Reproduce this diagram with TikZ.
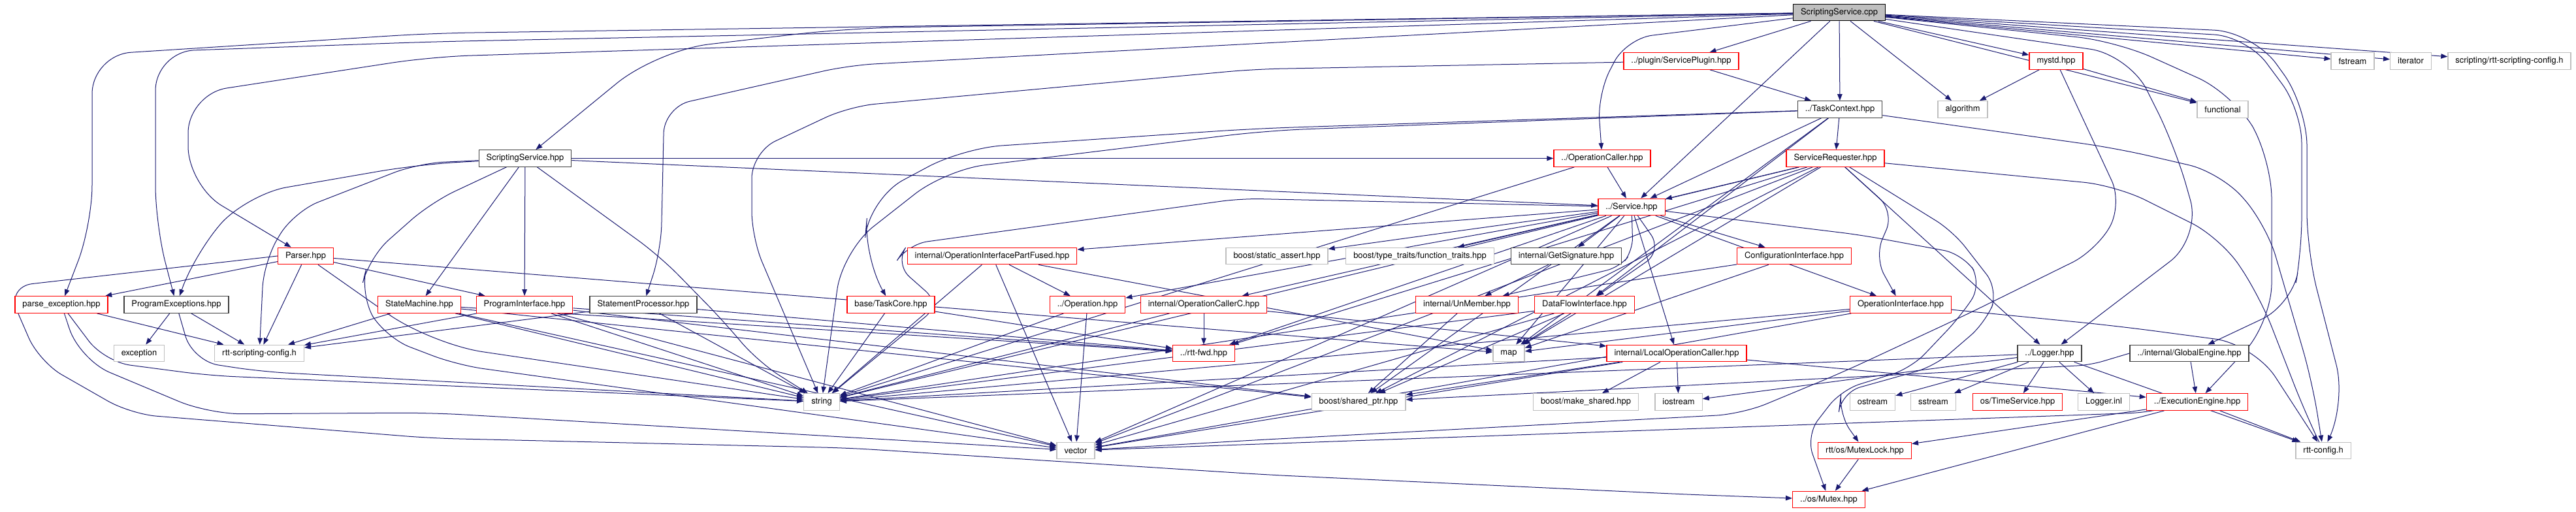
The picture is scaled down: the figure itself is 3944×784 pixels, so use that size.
\documentclass[tikz,border=0pt]{standalone}
\usepackage{fontspec}
\setmainfont{TeX Gyre Heros}
\usetikzlibrary{arrows.meta,backgrounds}
\definecolor{edge}{HTML}{191970}
\definecolor{dark}{HTML}{404040}
\definecolor{sysgray}{HTML}{BFBFBF}
\tikzset{
  % Kästen
  incbox/.style={rectangle, fill=white, line width=1.3pt, inner xsep=11.5pt, inner ysep=0pt,
    minimum height=25.5pt, font=\fontsize{12.9}{15}\selectfont},
  hdr/.style={incbox, draw=dark},
  trunc/.style={incbox, draw=red},
  sys/.style={incbox, draw=sysgray},
  root/.style={incbox, draw=black, fill=sysgray},
  % Kanten
  dep/.style={->, draw=edge, line width=1pt},
  bent/.style={dep, rounded corners=#1},
  bent/.default=40pt,
}

\begin{document}
\begin{tikzpicture}[x=1pt, y=1pt, >={Triangle[length=10pt,width=7.5pt]}]
  \useasboundingbox (0,0) rectangle (3944,784);
  % Rang 0-2
  \node[root]  (cpp)        at (2816,765)   {ScriptingService.cpp};
  \node[trunc] (plugin)     at (2574,690.5) {../plugin/ServicePlugin.hpp};
  \node[trunc] (mystd)      at (3148,690.5) {mystd.hpp};
  \node[sys]   (fstream)    at (3602,690.5) {fstream};
  \node[sys]   (iterator)   at (3691,690.5) {iterator};
  \node[sys]   (sconfig)    at (3842,690.5) {scripting/rtt-scripting-config.h};
  \node[hdr]   (taskctx)    at (2817,616.5) {../TaskContext.hpp};
  \node[sys]   (algorithm)  at (3005,616.5) {algorithm};
  \node[sys]   (functional) at (3403,616.5) {functional};
  % Rang 3-5
  \node[hdr]   (sshpp)      at (804,541.5)  {ScriptingService.hpp};
  \node[trunc] (opcaller)   at (2453,541.5) {../OperationCaller.hpp};
  \node[trunc] (srequester) at (2810,541.5) {ServiceRequester.hpp};
  \node[trunc] (service)    at (2498,467)   {../Service.hpp};
  \node[trunc] (parser)     at (468,392)    {Parser.hpp};
  \node[trunc] (opfused)    at (1519,392)   {internal/OperationInterfacePartFused.hpp};
  \node[sys]   (sassert)    at (1955,392)   {boost/static\_assert.hpp};
  \node[sys]   (ftraits)    at (2174,392)   {boost/type\_traits/function\_traits.hpp};
  \node[hdr]   (getsig)     at (2398,392)   {internal/GetSignature.hpp};
  \node[trunc] (confif)     at (2747,392)   {ConfigurationInterface.hpp};
  % Rang 6
  \node[trunc] (pexc)       at (94,317.5)   {parse\_exception.hpp};
  \node[hdr]   (progexc)    at (270,317.5)  {ProgramExceptions.hpp};
  \node[trunc] (statem)     at (642,317.5)  {StateMachine.hpp};
  \node[trunc] (progif)     at (803,317.5)  {ProgramInterface.hpp};
  \node[hdr]   (stproc)     at (985,317.5)  {StatementProcessor.hpp};
  \node[trunc] (taskcore)   at (1364,317.5) {base/TaskCore.hpp};
  \node[trunc] (operation)  at (1665,317.5) {../Operation.hpp};
  \node[trunc] (opcallerc)  at (1843,317.5) {internal/OperationCallerC.hpp};
  \node[trunc] (unmember)   at (2246,317.5) {internal/UnMember.hpp};
  \node[trunc] (dataflow)   at (2426,317.5) {DataFlowInterface.hpp};
  \node[trunc] (opif)       at (2910,317.5) {OperationInterface.hpp};
  % Rang 7
  \node[sys]   (exception)  at (213,243)    {exception};
  \node[sys]   (rsconfig)   at (397,243)    {rtt-scripting-config.h};
  \node[trunc] (rttfwd)     at (1843,243)   {../rtt-fwd.hpp};
  \node[sys]   (map)        at (2310,243)   {map};
  \node[trunc] (localop)    at (2567,243)   {internal/LocalOperationCaller.hpp};
  \node[hdr]   (logger)     at (3138,243)   {../Logger.hpp};
  \node[hdr]   (globeng)    at (3352,243)   {../internal/GlobalEngine.hpp};
  % Rang 8-10
  \node[sys]   (string)     at (1258,168.5) {string};
  \node[sys]   (sharedptr)  at (2080,168.5) {boost/shared\_ptr.hpp};
  \node[sys]   (makeshared) at (2428,168.5) {boost/make\_shared.hpp};
  \node[sys]   (iostream)   at (2570,168.5) {iostream};
  \node[sys]   (ostream)    at (2867,168.5) {ostream};
  \node[sys]   (sstream)    at (2960,168.5) {sstream};
  \node[trunc] (timeserv)   at (3089,168.5) {os/TimeService.hpp};
  \node[sys]   (loggerinl)  at (3221,168.5) {Logger.inl};
  \node[trunc] (execeng)    at (3364,168.5) {../ExecutionEngine.hpp};
  \node[sys]   (vector)     at (1647,94)    {vector};
  \node[trunc] (mutexlock)  at (2855,94)    {rtt/os/MutexLock.hpp};
  \node[sys]   (rttconfig)  at (3557,94)    {rtt-config.h};
  \node[trunc] (mutex)      at (2800,19)    {../os/Mutex.hpp};

  \begin{scope}[on background layer]
    % gerade Abhängigkeiten
    \foreach \a/\b in {cpp/plugin, cpp/taskctx, cpp/algorithm, cpp/mystd, cpp/functional,
        cpp/fstream, cpp/iterator, cpp/sconfig, cpp/service,
        plugin/taskctx, mystd/algorithm, mystd/functional,
        taskctx/srequester, taskctx/service, taskctx/dataflow, taskctx/map,
        srequester/service, opcaller/service, sshpp/opcaller, sshpp/service, sshpp/statem, sshpp/progif,
        parser/pexc, parser/progif, parser/rsconfig, parser/map,
        pexc/rsconfig, progexc/exception, progexc/rsconfig,
        statem/rsconfig, progif/rsconfig, stproc/rsconfig,
        statem/string, progif/string, stproc/string, taskcore/string, operation/string,
        opcallerc/string, opfused/string, dataflow/string, confif/string, opif/string,
        srequester/string, localop/string, opcaller/string, logger/string,
        statem/rttfwd, progif/rttfwd, stproc/rttfwd, taskcore/rttfwd, opcallerc/rttfwd,
        service/rttfwd, srequester/rttfwd,
        statem/vector, progif/vector, opfused/vector, operation/vector, dataflow/vector,
        opif/vector, srequester/vector, localop/vector,
        statem/sharedptr, progif/sharedptr, unmember/sharedptr, dataflow/sharedptr,
        service/sharedptr, localop/sharedptr, srequester/sharedptr,
        opfused/operation, opfused/map,
        service/opfused, service/sassert, service/ftraits, service/getsig, service/confif,
        service/operation, service/opcallerc, service/opif, service/localop, service/map,
        service/vector, getsig/unmember, opcallerc/localop,
        dataflow/map, confif/map, opif/map, srequester/map, srequester/logger,
        localop/makeshared, localop/iostream, localop/execeng,
        logger/iostream, logger/ostream, logger/sstream, logger/timeserv, logger/loggerinl,
        logger/rttconfig, execeng/rttconfig, execeng/mutexlock, execeng/mutex,
        globeng/execeng, mutexlock/mutex}
      \draw[dep] (\a) -- (\b);
    % Bögen oben links herum
    \draw[bent=60pt] (cpp) -- (660,733) -- (141,700) -- (141,440) -- (pexc);
    \draw[bent=60pt] (cpp) -- (660,720) -- (238,705) -- (238,440) -- (progexc);
    \draw[bent=60pt] (cpp) -- (660,697) -- (288,640) -- (288,500) -- (parser);
    \draw[bent=80pt] (cpp) -- (1300,741) -- (1006,707) -- (sshpp);
    \draw[bent] (cpp) -- (1300,684) -- (1017,620) -- (1012,400) -- (stproc);
    \draw[bent] (cpp) -- (2490,725) -- (2446,640) -- (opcaller);
    \draw[bent] (plugin) -- (1920,678) -- (1300,621) -- (1151,551) -- (1151,420) -- (string);
    \draw[bent=60pt] (taskctx) -- (1920,587) -- (1474,557) -- (1330,480) -- (1322,390) -- (taskcore);
    \draw[bent=60pt] (taskctx) -- (1940,584) -- (1448,524) -- (1290,400) -- (string);
    % ScriptingService.hpp
    \draw[bent=60pt] (sshpp) -- (640,532) -- (380,487) -- (300,400) -- (progexc);
    \draw[bent] (sshpp) -- (640,534) -- (450,460) -- (404,384) -- (rsconfig);
    \draw[bent] (sshpp) -- (660,474) -- (565,390) -- (551,333) -- (590,267) -- (700,225) -- (vector);
    \draw[bent] (sshpp) -- (1010,392) -- (1110,290) -- (1160,230) -- (string);
    % linker Rand
    \draw[bent] (parser.west) -- (10,345) -- (60,230) -- (200,150) -- (660,113) -- (1300,98)
      -- (1940,57) -- (2580,27) -- (mutex);
    \draw[bent=50pt] (pexc) -- (122,233) -- (320,150) -- (660,152) -- (vector);
    \draw[bent] (pexc) -- (160,230) -- (320,209) -- (string);
    \draw[bent] (progexc) -- (295,231) -- (400,215) -- (string);
    \draw[bent=80pt] (parser) -- (660,257) -- (string);
    % Service.hpp
    \draw[bent=30pt] (service) -- (1900,480) -- (1390,410) -- (1370,380) -- (1440,318) -- (string);
    \draw[bent=30pt] (service) -- (2545,400) -- (dataflow);
    \draw[bent=20pt] (service) -- (2500,400) -- (2480,375) -- (unmember);
    \draw[bent=30pt] (service) -- (2850,424) -- (3006,395) -- (3035,350) -- (3002,300) -- (2926,220)
      -- (2819,187) -- (2765,117) -- (mutex);
    \draw[bent=30pt] (srequester) -- (2990,430) -- (3060,340) -- (3040,290) -- (2962,223)
      -- (2819,183) -- (2815,150) -- (mutexlock);
    \draw[bent=30pt] (srequester) -- (2900,460) -- (2870,390) -- (opif);
    \draw[bent] (mystd) -- (3250,471) -- (3209,400) -- (3006,300) -- (2819,213) -- (2667,150)
      -- (1920,110) -- (vector);
    % rechter Rand
    \draw[bent=60pt] (cpp) -- (3450,735) -- (3532,621) -- (3532,400) -- (3592,167) -- (rttconfig);
    \draw[bent=50pt] (cpp) -- (3440,728) -- (3524,615) -- (3524,400) -- (3509,317) -- (globeng);
    \draw[bent=60pt] (cpp) -- (3240,721) -- (3420,640) -- (3478,540) -- (3478,290) -- (execeng);
    \draw[bent=60pt] (cpp) -- (3260,700) -- (3330,560) -- (3370,420) -- (logger);
    \draw[bent=50pt] (taskctx) -- (3240,557) -- (3400,520) -- (3470,440) -- (3540,200) -- (rttconfig);
    \draw[bent=50pt] (srequester) -- (3240,500) -- (3400,420) -- (3460,330) -- (3530,150) -- (rttconfig);
    \draw[bent=60pt] (opif) -- (3240,285) -- (3451,257) -- (rttconfig);
    \draw[bent=20pt] (execeng) -- (3280,152) -- (vector);
    \draw[bent=20pt] (globeng.west) -- (3200,225) -- (sharedptr);
  \end{scope}
\end{tikzpicture}
\end{document}
